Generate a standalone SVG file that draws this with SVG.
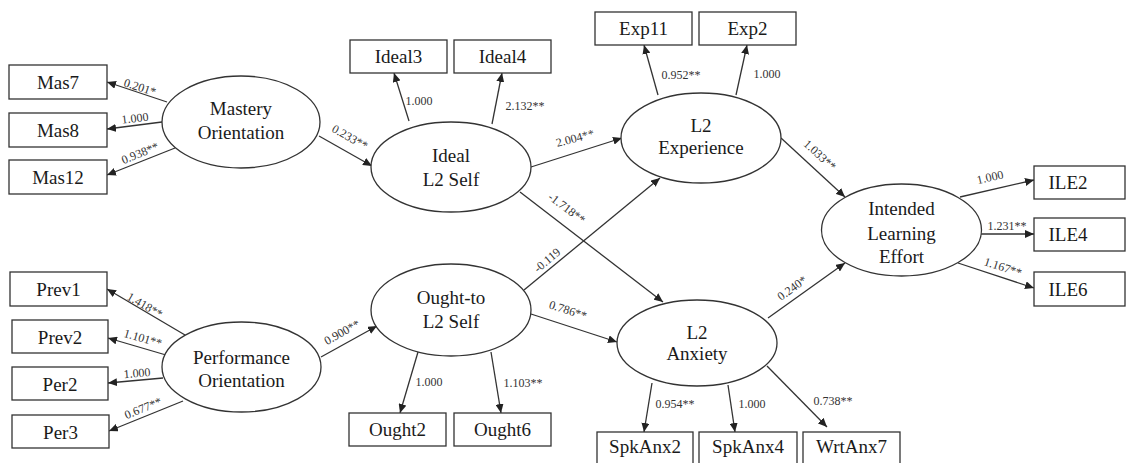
<svg xmlns="http://www.w3.org/2000/svg" width="1126" height="463" viewBox="0 0 1126 463">
<style>
  .box{fill:#fff;stroke:#333;stroke-width:1.3}
  .lat{fill:#fff;stroke:#333;stroke-width:1.3}
  .t{font-family:"Liberation Serif","Times New Roman",serif;font-size:19px;fill:#1a1a1a;text-anchor:middle}
  .c line{stroke:#333;stroke-width:1.3;marker-end:url(#ah)}
  .l{font-family:"Liberation Serif","Times New Roman",serif;font-size:12px;fill:#333;text-anchor:middle}
</style>
<defs>
  <marker id="ah" markerUnits="userSpaceOnUse" markerWidth="10" markerHeight="8" refX="9" refY="4" orient="auto">
    <path d="M0,0 L9,4 L0,8 Z" fill="#222"/>
  </marker>
</defs>
<rect width="1126" height="463" fill="#fff"/>

<g id="connectors" class="c">
  <line x1="167" y1="102" x2="107" y2="82"/>
  <line x1="162" y1="122" x2="107" y2="129"/>
  <line x1="175" y1="148" x2="107" y2="175"/>
  <line x1="319" y1="136" x2="372" y2="166"/>
  <line x1="185" y1="335" x2="107" y2="289"/>
  <line x1="166" y1="355" x2="108" y2="338"/>
  <line x1="163" y1="378" x2="108" y2="383"/>
  <line x1="183" y1="401" x2="109" y2="431"/>
  <line x1="321" y1="357" x2="377" y2="326"/>
  <line x1="409" y1="121" x2="394" y2="73"/>
  <line x1="492" y1="124" x2="502" y2="73"/>
  <line x1="531" y1="167" x2="622" y2="138"/>
  <line x1="520" y1="192" x2="663" y2="302"/>
  <line x1="524" y1="290" x2="660" y2="178"/>
  <line x1="531" y1="314" x2="617" y2="342"/>
  <line x1="418" y1="352" x2="400" y2="413"/>
  <line x1="491" y1="352" x2="501" y2="413"/>
  <line x1="658" y1="95" x2="644" y2="45"/>
  <line x1="736" y1="95" x2="747" y2="45"/>
  <line x1="652" y1="383" x2="644" y2="432"/>
  <line x1="728" y1="385" x2="735" y2="432"/>
  <line x1="767" y1="366" x2="827" y2="427"/>
  <line x1="781" y1="138" x2="845" y2="197"/>
  <line x1="768" y1="318" x2="845" y2="263"/>
  <line x1="960" y1="197" x2="1034" y2="180"/>
  <line x1="981" y1="234" x2="1034" y2="234"/>
  <line x1="958" y1="263" x2="1034" y2="288"/>
</g>

<g id="labels">
  <text class="l" transform="translate(140,87) rotate(18)" dy="0.35em">0.201*</text>
  <text class="l" transform="translate(135,118) rotate(-7)" dy="0.35em">1.000</text>
  <text class="l" transform="translate(140,153) rotate(-22)" dy="0.35em">0.938**</text>
  <text class="l" transform="translate(350,137) rotate(29)" dy="0.35em">0.233**</text>
  <text class="l" transform="translate(145,305) rotate(30)" dy="0.35em">1.418**</text>
  <text class="l" transform="translate(143,338) rotate(16)" dy="0.35em">1.101**</text>
  <text class="l" transform="translate(137,373) rotate(-5)" dy="0.35em">1.000</text>
  <text class="l" transform="translate(143,408) rotate(-22)" dy="0.35em">0.677**</text>
  <text class="l" transform="translate(342,332) rotate(-29)" dy="0.35em">0.900**</text>
  <text class="l" x="419" y="101" dy="0.35em">1.000</text>
  <text class="l" x="525" y="106" dy="0.35em">2.132**</text>
  <text class="l" transform="translate(575,138) rotate(-15)" dy="0.35em">2.004**</text>
  <text class="l" transform="translate(567,208) rotate(37)" dy="0.35em">-1.718**</text>
  <text class="l" transform="translate(547,260) rotate(-40)" dy="0.35em">-0.119</text>
  <text class="l" transform="translate(568,310) rotate(18)" dy="0.35em">0.786**</text>
  <text class="l" x="429" y="382" dy="0.35em">1.000</text>
  <text class="l" x="523" y="383" dy="0.35em">1.103**</text>
  <text class="l" x="681" y="75" dy="0.35em">0.952**</text>
  <text class="l" x="767" y="74" dy="0.35em">1.000</text>
  <text class="l" x="675" y="404" dy="0.35em">0.954**</text>
  <text class="l" x="752" y="404" dy="0.35em">1.000</text>
  <text class="l" x="833" y="401" dy="0.35em">0.738**</text>
  <text class="l" transform="translate(820,155) rotate(42)" dy="0.35em">1.033**</text>
  <text class="l" transform="translate(792,288) rotate(-36)" dy="0.35em">0.240*</text>
  <text class="l" transform="translate(990,177) rotate(-13)" dy="0.35em">1.000</text>
  <text class="l" x="1007" y="226" dy="0.35em">1.231**</text>
  <text class="l" transform="translate(1003,267) rotate(18)" dy="0.35em">1.167**</text>
</g>

<g id="Mas7"><rect class="box" x="9" y="65" width="98" height="34"/><text class="t" x="58" y="89">Mas7</text></g>
<g id="Mas8"><rect class="box" x="9" y="113" width="98" height="34"/><text class="t" x="58" y="137">Mas8</text></g>
<g id="Mas12"><rect class="box" x="9" y="160" width="98" height="34"/><text class="t" x="58" y="184">Mas12</text></g>
<g id="Prev1"><rect class="box" x="10" y="272" width="97" height="34"/><text class="t" x="58.5" y="296">Prev1</text></g>
<g id="Prev2"><rect class="box" x="12" y="320" width="96" height="33"/><text class="t" x="60" y="343.5">Prev2</text></g>
<g id="Per2"><rect class="box" x="12" y="367" width="96" height="33"/><text class="t" x="60" y="390.5">Per2</text></g>
<g id="Per3"><rect class="box" x="12" y="415" width="97" height="33"/><text class="t" x="60.5" y="438.5">Per3</text></g>

<g id="MasteryOrientation"><ellipse class="lat" cx="241" cy="122" rx="79" ry="46"/><text class="t" x="241" y="115">Mastery</text><text class="t" x="241" y="139">Orientation</text></g>
<g id="PerformanceOrientation"><ellipse class="lat" cx="241.5" cy="367" rx="79.5" ry="45"/><text class="t" x="241.5" y="364">Performance</text><text class="t" x="241.5" y="387">Orientation</text></g>

<g id="Ideal3"><rect class="box" x="350" y="40" width="97" height="33"/><text class="t" x="398.5" y="63">Ideal3</text></g>
<g id="Ideal4"><rect class="box" x="454" y="40" width="97" height="33"/><text class="t" x="502.5" y="63">Ideal4</text></g>
<g id="IdealL2Self"><ellipse class="lat" cx="451" cy="167" rx="80" ry="45"/><text class="t" x="451" y="162">Ideal</text><text class="t" x="451" y="186">L2 Self</text></g>
<g id="OughtL2Self"><ellipse class="lat" cx="451" cy="310" rx="80" ry="46"/><text class="t" x="451" y="304">Ought-to</text><text class="t" x="451" y="328">L2 Self</text></g>
<g id="Ought2"><rect class="box" x="349" y="413" width="97" height="33"/><text class="t" x="397.5" y="436">Ought2</text></g>
<g id="Ought6"><rect class="box" x="454" y="413" width="97" height="33"/><text class="t" x="502.5" y="436">Ought6</text></g>

<g id="Exp11"><rect class="box" x="595" y="12" width="97" height="33"/><text class="t" x="643.5" y="35">Exp11</text></g>
<g id="Exp2"><rect class="box" x="699" y="12" width="97" height="33"/><text class="t" x="747.5" y="35">Exp2</text></g>
<g id="L2Experience"><ellipse class="lat" cx="701" cy="138" rx="80" ry="45"/><text class="t" x="701" y="132">L2</text><text class="t" x="701" y="154">Experience</text></g>
<g id="L2Anxiety"><ellipse class="lat" cx="697" cy="343" rx="80" ry="43"/><text class="t" x="697" y="339">L2</text><text class="t" x="697" y="360">Anxiety</text></g>
<g id="SpkAnx2"><rect class="box" x="597" y="432" width="96" height="34"/><text class="t" x="645" y="453">SpkAnx2</text></g>
<g id="SpkAnx4"><rect class="box" x="699" y="432" width="98" height="34"/><text class="t" x="748" y="453">SpkAnx4</text></g>
<g id="WrtAnx7"><rect class="box" x="803" y="432" width="97" height="34"/><text class="t" x="851.5" y="453">WrtAnx7</text></g>

<g id="IntendedLearningEffort"><ellipse class="lat" cx="901.5" cy="230" rx="80" ry="46"/><text class="t" x="901.5" y="215">Intended</text><text class="t" x="901.5" y="240">Learning</text><text class="t" x="901.5" y="263">Effort</text></g>
<g id="ILE2"><rect class="box" x="1034" y="166" width="91" height="33"/><text class="t" x="1068" y="189">ILE2</text></g>
<g id="ILE4"><rect class="box" x="1034" y="218" width="91" height="33"/><text class="t" x="1068" y="241">ILE4</text></g>
<g id="ILE6"><rect class="box" x="1034" y="272" width="91" height="34"/><text class="t" x="1068" y="295.5">ILE6</text></g>
</svg>
